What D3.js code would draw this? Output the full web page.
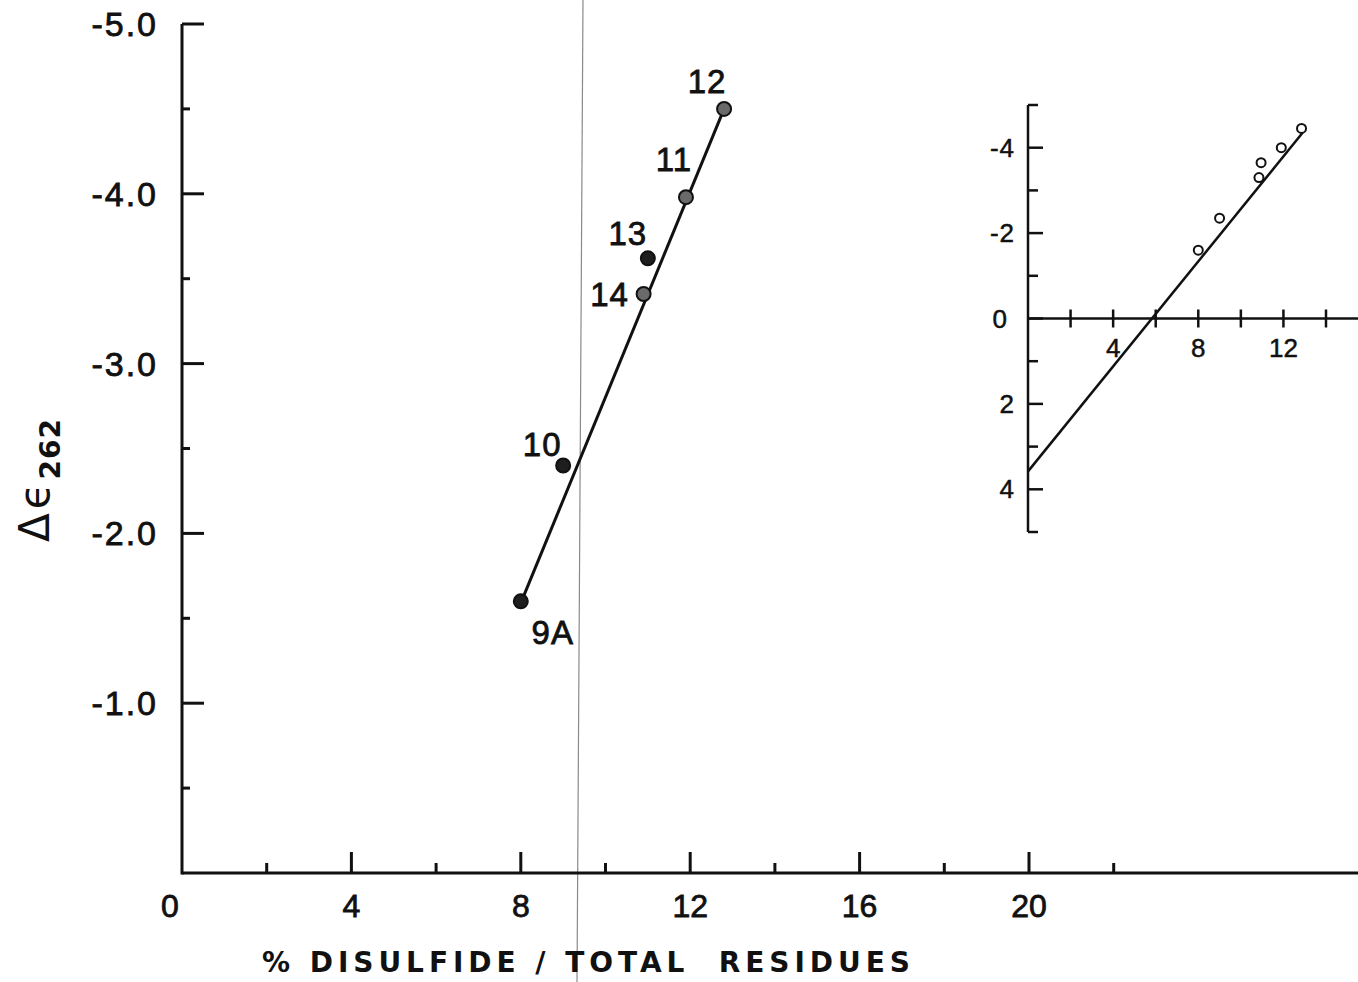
<!DOCTYPE html>
<html><head><meta charset="utf-8">
<script src="https://cdn.jsdelivr.net/npm/d3@7"></script>
<style>html,body{margin:0;padding:0;background:#fff;}svg{display:block;}</style>
</head><body>
<script>
// ---------- data ----------
const mainIds = ["9A", "10", "14", "13", "11", "12"];
const mainX = [8.0, 9.0, 10.9, 11.0, 11.9, 12.8];
const mainY = [-1.6, -2.4, -3.41, -3.62, -3.98, -4.5];
const mainLineX = [8.05, 12.8];
const mainLineY = [-1.62, -4.5];
const mainXTicks = [0, 4, 8, 12, 16, 20];
const mainXMinor = [2, 6, 10, 14, 18, 22];
const mainYTicks = [-5, -4, -3, -2, -1];
const mainYTickLabels = ["-5.0", "-4.0", "-3.0", "-2.0", "-1.0"];
const mainYMinor = [-4.5, -3.5, -2.5, -1.5, -0.5];

const insetX = [8.0, 9.0, 10.85, 10.95, 11.9, 12.85];
const insetY = [-1.6, -2.35, -3.3, -3.65, -4.0, -4.45];
const insetLineX = [0, 12.9];
const insetLineY = [3.58, -4.35];
const insetXTicks = [2, 4, 6, 8, 10, 12, 14];
const insetXLabels = [4, 8, 12];
const insetYTicks = [-4, -2, 0, 2, 4];
const insetYMinor = [-5, -3, -1, 1, 3, 5];

// ---------- style ----------
const W = 1358, H = 982;
const INK = "#111";
const FONT = "'Liberation Sans', Arial, sans-serif";
const FONT2 = "'DejaVu Sans', sans-serif";
const markerStyle = { "9A": "dark", "10": "dark", "13": "dark", "14": "grey", "11": "grey", "12": "grey" };
const labelOffset = { "12": [-17, -28], "11": [-12, -38], "13": [-20, -25], "14": [-34, 0], "10": [-21, -21], "9A": [32, 31] };

const svg = d3.select("body").append("svg").attr("width", W).attr("height", H);

// scan artifact line
svg.append("line").attr("x1", 583).attr("y1", 0).attr("x2", 577).attr("y2", H)
  .attr("stroke", "#8a8a8a").attr("stroke-width", 1.2);

// ---------- main plot ----------
const x = d3.scaleLinear().domain([0, 20]).range([182, 1029]);
const y = d3.scaleLinear().domain([0, -5]).range([873, 24]);
const g = svg.append("g");

g.append("line").attr("x1", x(0)).attr("x2", W).attr("y1", y(0)).attr("y2", y(0))
  .attr("stroke", INK).attr("stroke-width", 3);
g.append("line").attr("x1", x(0)).attr("x2", x(0)).attr("y1", y(0) + 1.5).attr("y2", y(-5))
  .attr("stroke", INK).attr("stroke-width", 3);

g.selectAll(".xt").data(mainXTicks.filter(d => d > 0)).enter().append("line")
  .attr("x1", d => x(d)).attr("x2", d => x(d)).attr("y1", y(0)).attr("y2", y(0) - 21)
  .attr("stroke", INK).attr("stroke-width", 3);
g.selectAll(".xm").data(mainXMinor).enter().append("line")
  .attr("x1", d => x(d)).attr("x2", d => x(d)).attr("y1", y(0)).attr("y2", y(0) - 10)
  .attr("stroke", INK).attr("stroke-width", 3);
g.selectAll(".xl").data(mainXTicks).enter().append("text")
  .attr("x", d => x(d) - (d === 0 ? 12 : 0)).attr("y", 917)
  .attr("text-anchor", "middle").attr("font-family", FONT).attr("font-size", 32)
  .attr("fill", INK).attr("stroke", INK).attr("stroke-width", 0.8)
  .text(d => d);

g.selectAll(".yt").data(mainYTicks).enter().append("line")
  .attr("x1", x(0)).attr("x2", x(0) + 22).attr("y1", d => y(d)).attr("y2", d => y(d))
  .attr("stroke", INK).attr("stroke-width", 3);
g.selectAll(".ym").data(mainYMinor).enter().append("line")
  .attr("x1", x(0)).attr("x2", x(0) + 8).attr("y1", d => y(d)).attr("y2", d => y(d))
  .attr("stroke", INK).attr("stroke-width", 3);
g.selectAll(".yl").data(mainYTicks).enter().append("text")
  .attr("x", 158).attr("y", d => y(d) + 12)
  .attr("text-anchor", "end").attr("font-family", FONT).attr("font-size", 34)
  .attr("letter-spacing", 2)
  .attr("fill", INK).attr("stroke", INK).attr("stroke-width", 0.8)
  .text((d, i) => mainYTickLabels[i]);

// axis titles
svg.append("text").attr("x", 262).attr("y", 972)
  .attr("font-family", FONT2).attr("font-weight", "bold").attr("font-size", 28)
  .attr("textLength", 648).attr("lengthAdjust", "spacing")
  .attr("fill", INK).style("white-space", "pre")
  .text("% DISULFIDE / TOTAL  RESIDUES");

const yt = svg.append("text").attr("transform", "translate(49,542) rotate(-90)")
  .attr("font-family", FONT2).attr("fill", INK);
yt.append("tspan").attr("font-size", 42).text("Δ");
yt.append("tspan").attr("font-size", 42).attr("dx", 4).text("ϵ");
yt.append("tspan").attr("font-size", 28).attr("font-weight", "bold").attr("dy", 11).attr("dx", 4)
  .attr("letter-spacing", 1).text("262");

// main line
g.append("line")
  .attr("x1", x(mainLineX[0])).attr("y1", y(mainLineY[0]))
  .attr("x2", x(mainLineX[1])).attr("y2", y(mainLineY[1]))
  .attr("stroke", INK).attr("stroke-width", 3);

const pts = mainIds.map((id, i) => ({ id, x: mainX[i], y: mainY[i] }));
g.selectAll(".pt").data(pts).enter().append("circle")
  .attr("cx", d => x(d.x)).attr("cy", d => y(d.y)).attr("r", 7)
  .attr("fill", d => markerStyle[d.id] === "dark" ? "#1e1e1e" : "#6a6a6a")
  .attr("stroke", INK).attr("stroke-width", 2);
g.selectAll(".pl").data(pts).enter().append("text")
  .attr("x", d => x(d.x) + labelOffset[d.id][0]).attr("y", d => y(d.y) + labelOffset[d.id][1] + 12)
  .attr("text-anchor", "middle").attr("font-family", FONT).attr("font-size", 33)
  .attr("letter-spacing", 1)
  .attr("fill", INK).attr("stroke", INK).attr("stroke-width", 0.8)
  .text(d => d.id);

// ---------- inset ----------
const ix = d3.scaleLinear().domain([0, 14]).range([1028, 1326]);
const iy = d3.scaleLinear().domain([-5, 5]).range([105, 532]);
const ig = svg.append("g");

ig.append("line").attr("x1", ix(0)).attr("x2", ix(0)).attr("y1", iy(-5)).attr("y2", iy(5))
  .attr("stroke", INK).attr("stroke-width", 2.5);
ig.append("line").attr("x1", ix(0)).attr("x2", W).attr("y1", iy(0)).attr("y2", iy(0))
  .attr("stroke", INK).attr("stroke-width", 2.5);

ig.selectAll(".iyt").data(insetYTicks).enter().append("line")
  .attr("x1", ix(0)).attr("x2", ix(0) + 15).attr("y1", d => iy(d)).attr("y2", d => iy(d))
  .attr("stroke", INK).attr("stroke-width", 2.5);
ig.selectAll(".iym").data(insetYMinor).enter().append("line")
  .attr("x1", ix(0)).attr("x2", ix(0) + 10).attr("y1", d => iy(d)).attr("y2", d => iy(d))
  .attr("stroke", INK).attr("stroke-width", 2.5);
ig.selectAll(".iyl").data(insetYTicks).enter().append("text")
  .attr("x", d => d === 0 ? 1008 : 1015).attr("y", d => iy(d) + 9)
  .attr("text-anchor", "end").attr("font-family", FONT).attr("font-size", 26)
  .attr("letter-spacing", 1)
  .attr("fill", INK).attr("stroke", INK).attr("stroke-width", 0.5)
  .text(d => d);

ig.selectAll(".ixt").data(insetXTicks).enter().append("line")
  .attr("x1", d => ix(d)).attr("x2", d => ix(d)).attr("y1", iy(0) - 9).attr("y2", iy(0) + 9)
  .attr("stroke", INK).attr("stroke-width", 2.5);
ig.selectAll(".ixl").data(insetXLabels).enter().append("text")
  .attr("x", d => ix(d)).attr("y", iy(0) + 38)
  .attr("text-anchor", "middle").attr("font-family", FONT).attr("font-size", 26)
  .attr("fill", INK).attr("stroke", INK).attr("stroke-width", 0.5)
  .text(d => d);

ig.append("line")
  .attr("x1", ix(insetLineX[0])).attr("y1", iy(insetLineY[0]))
  .attr("x2", ix(insetLineX[1])).attr("y2", iy(insetLineY[1]))
  .attr("stroke", INK).attr("stroke-width", 2.5);

ig.selectAll(".ipt").data(insetX.map((v, i) => [v, insetY[i]])).enter().append("circle")
  .attr("cx", d => ix(d[0])).attr("cy", d => iy(d[1])).attr("r", 4.5)
  .attr("fill", "#fff").attr("stroke", INK).attr("stroke-width", 2);
</script>
</body></html>
